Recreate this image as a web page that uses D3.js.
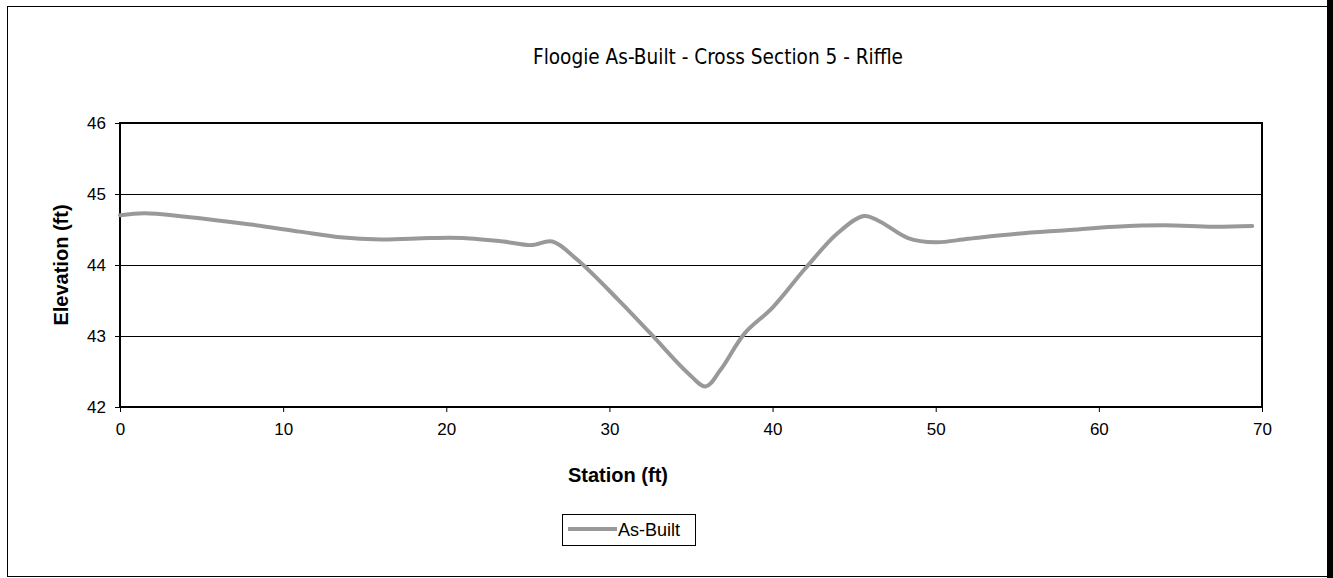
<!DOCTYPE html>
<html>
<head>
    <meta charset="utf-8">
    <title>Floogie As-Built - Cross Section 5</title>
    <style>
        body { margin: 0; background: #fff; }
        text { font-family: "Liberation Sans", Arial, sans-serif; fill: #000; }
        .title { font-family: "Liberation Sans Narrow", "DejaVu Sans Condensed", sans-serif; font-size: 22px; }
        .axis-title { font-size: 20px; font-weight: bold; }
        .tick text { font-size: 17px; }
        .grid line { stroke: #000; stroke-width: 1px; shape-rendering: crispEdges; }
    </style>
</head>
<body>
<script src="https://cdnjs.cloudflare.com/ajax/libs/d3/7.8.5/d3.min.js"></script>
<script>
    // Survey data
    const stations = [0, 1.5, 4, 8, 11, 13.5, 16, 19, 21, 23.5, 25.2, 26.5, 28, 30.5, 32.5, 34.8, 35.9,
        36.8, 38.3, 40, 42, 44, 45.6, 46.6, 48.3, 50, 52, 55, 58, 61, 64, 67, 69.4];
    const elevations = [44.70, 44.73, 44.68, 44.57, 44.47, 44.39, 44.36, 44.38, 44.38, 44.33, 44.28, 44.33,
        44.08, 43.52, 43.04, 42.48, 42.29, 42.52, 43.04, 43.40, 43.95, 44.45, 44.69, 44.61, 44.38, 44.32,
        44.37, 44.44, 44.49, 44.54, 44.56, 44.54, 44.55];
    const xTicks = [0, 10, 20, 30, 40, 50, 60, 70];
    const yTicks = [42, 43, 44, 45, 46];
    const seriesName = "As-Built";

    const W = 1333, H = 578;
    const plot = {left: 120, top: 123, right: 1262, bottom: 407};

    const svg = d3.select("body").append("svg")
        .attr("width", W)
        .attr("height", H);

    // chart area border + dark right edge
    svg.append("rect")
        .attr("x", 7.5).attr("y", 6.5)
        .attr("width", 1320).attr("height", 570)
        .attr("fill", "#fff").attr("stroke", "#000").attr("stroke-width", 1);
    svg.append("rect")
        .attr("x", 1327).attr("y", 0)
        .attr("width", 6).attr("height", H)
        .attr("fill", "#000");

    const x = d3.scaleLinear().domain([0, 70]).range([plot.left, plot.right]);
    const y = d3.scaleLinear().domain([42, 46]).range([plot.bottom, plot.top]);

    // gridlines
    svg.append("g").attr("class", "grid")
        .selectAll("line")
        .data(yTicks.slice(1, -1))
        .join("line")
        .attr("x1", plot.left).attr("x2", plot.right)
        .attr("y1", d => Math.round(y(d)) + 0.5).attr("y2", d => Math.round(y(d)) + 0.5);

    // axes
    const yAxis = svg.append("g")
        .attr("transform", `translate(${plot.left},0)`)
        .call(d3.axisLeft(y).tickValues(yTicks).tickSize(5).tickPadding(9).tickFormat(d3.format("d")));
    const xAxis = svg.append("g")
        .attr("transform", `translate(0,${plot.bottom})`)
        .call(d3.axisBottom(x).tickValues(xTicks).tickSize(5).tickPadding(11).tickFormat(d3.format("d")));
    [yAxis, xAxis].forEach(a => {
        a.select(".domain").remove();
        a.selectAll(".tick line").attr("stroke", "#000");
    });

    // plot frame
    svg.append("rect")
        .attr("x", plot.left).attr("y", plot.top)
        .attr("width", plot.right - plot.left).attr("height", plot.bottom - plot.top)
        .attr("fill", "none").attr("stroke", "#000").attr("stroke-width", 2);

    // the line
    const pts = stations.map((s, i) => [s, elevations[i]]);
    const line = d3.line()
        .x(d => x(d[0]))
        .y(d => y(d[1]))
        .curve(d3.curveCatmullRom.alpha(0.5));
    svg.append("path")
        .datum(pts)
        .attr("d", line)
        .attr("fill", "none")
        .attr("stroke", "#999")
        .attr("stroke-width", 4)
        .attr("stroke-linejoin", "round")
        .attr("stroke-linecap", "round");

    // titles
    svg.append("text").attr("class", "title")
        .attr("x", 718).attr("y", 64)
        .attr("text-anchor", "middle")
        .attr("textLength", 370)
        .attr("lengthAdjust", "spacingAndGlyphs")
        .text("Floogie As-Built - Cross Section 5 - Riffle");
    svg.append("text").attr("class", "axis-title")
        .attr("x", 618).attr("y", 482)
        .attr("text-anchor", "middle")
        .text("Station (ft)");
    svg.append("text").attr("class", "axis-title")
        .attr("transform", `translate(68,${(plot.top + plot.bottom) / 2}) rotate(-90)`)
        .attr("text-anchor", "middle")
        .text("Elevation (ft)");

    // legend
    const lg = svg.append("g").attr("transform", "translate(562,514)");
    lg.append("rect")
        .attr("x", 0.5).attr("y", 0.5).attr("width", 133).attr("height", 31)
        .attr("fill", "#fff").attr("stroke", "#000");
    lg.append("line")
        .attr("x1", 6).attr("x2", 55).attr("y1", 15).attr("y2", 15)
        .attr("stroke", "#999").attr("stroke-width", 4);
    lg.append("text")
        .attr("x", 56).attr("y", 22)
        .style("font-size", "18px")
        .text(seriesName);
</script>
</body>
</html>
